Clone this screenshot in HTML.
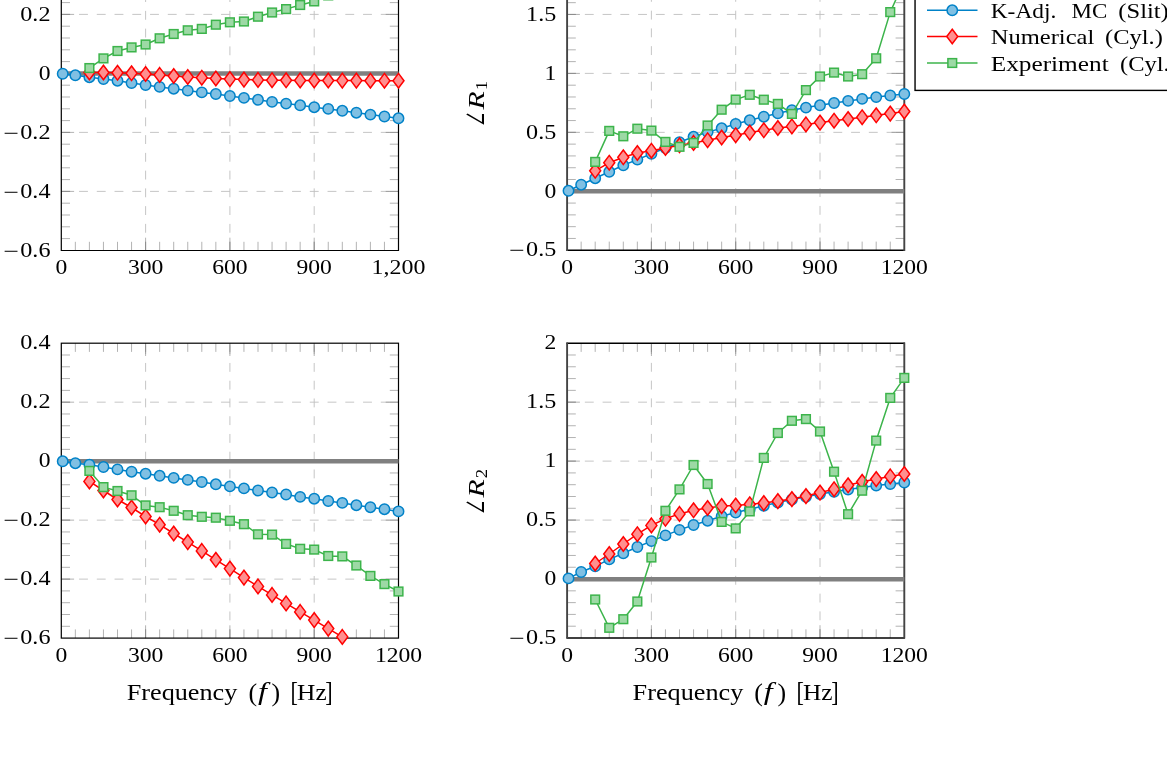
<!DOCTYPE html>
<html lang="en"><head><meta charset="utf-8"><title>Reflection coefficient plots</title>
<style>html,body{margin:0;padding:0;background:#fff}body{width:1167px;height:757px;overflow:hidden}svg{display:block}</style></head><body>
<svg width="1167" height="757" viewBox="0 0 1167 757">
<rect width="1167" height="757" fill="#fff"/>
<clipPath id="c1"><rect x="61.30" y="-44.50" width="337.20" height="295.00"/></clipPath>
<g stroke="#bfbfbf" stroke-width="0.9" stroke-dasharray="8.875 8.875" fill="none">
<path d="M145.60 250.50V-44.50"/>
<path d="M229.90 250.50V-44.50"/>
<path d="M314.20 250.50V-44.50"/>
<path d="M61.30 -44.60H398.50"/>
<path d="M61.30 14.40H398.50"/>
<path d="M61.30 73.40H398.50"/>
<path d="M61.30 132.40H398.50"/>
<path d="M61.30 191.40H398.50"/>
</g>
<g stroke="#808080" stroke-width="0.6" fill="none">
<path d="M75.35 250.50v-8.7M89.40 250.50v-8.7M103.45 250.50v-8.7M117.50 250.50v-8.7M131.55 250.50v-8.7M145.60 250.50v-8.7M145.60 250.50v-12.8M159.65 250.50v-8.7M173.70 250.50v-8.7M187.75 250.50v-8.7M201.80 250.50v-8.7M215.85 250.50v-8.7M229.90 250.50v-8.7M229.90 250.50v-12.8M243.95 250.50v-8.7M258.00 250.50v-8.7M272.05 250.50v-8.7M286.10 250.50v-8.7M300.15 250.50v-8.7M314.20 250.50v-8.7M314.20 250.50v-12.8M328.25 250.50v-8.7M342.30 250.50v-8.7M356.35 250.50v-8.7M370.40 250.50v-8.7M384.45 250.50v-8.7M61.30 2.60h8.7M398.50 2.60h-8.7M61.30 14.40h8.7M398.50 14.40h-8.7M61.30 14.40h12.8M398.50 14.40h-12.8M61.30 26.20h8.7M398.50 26.20h-8.7M61.30 38.00h8.7M398.50 38.00h-8.7M61.30 49.80h8.7M398.50 49.80h-8.7M61.30 61.60h8.7M398.50 61.60h-8.7M61.30 73.40h8.7M398.50 73.40h-8.7M61.30 73.40h12.8M398.50 73.40h-12.8M61.30 85.20h8.7M398.50 85.20h-8.7M61.30 97.00h8.7M398.50 97.00h-8.7M61.30 108.80h8.7M398.50 108.80h-8.7M61.30 120.60h8.7M398.50 120.60h-8.7M61.30 132.40h8.7M398.50 132.40h-8.7M61.30 132.40h12.8M398.50 132.40h-12.8M61.30 144.20h8.7M398.50 144.20h-8.7M61.30 156.00h8.7M398.50 156.00h-8.7M61.30 167.80h8.7M398.50 167.80h-8.7M61.30 179.60h8.7M398.50 179.60h-8.7M61.30 191.40h8.7M398.50 191.40h-8.7M61.30 191.40h12.8M398.50 191.40h-12.8M61.30 203.20h8.7M398.50 203.20h-8.7M61.30 215.00h8.7M398.50 215.00h-8.7M61.30 226.80h8.7M398.50 226.80h-8.7M61.30 238.60h8.7M398.50 238.60h-8.7"/></g>
<path d="M61.30 -44.50V250.50H398.50V-44.50" stroke="#000" stroke-width="1.2" fill="none" stroke-linejoin="miter"/>
<path d="M61.30 73.50H398.50" stroke="#808080" stroke-width="4.4" fill="none"/>
<g font-family="Liberation Serif, serif" fill="#000">
<text x="55.40" y="274.20" font-size="20.9" textLength="11.80" lengthAdjust="spacingAndGlyphs">0</text>
<text x="127.90" y="274.20" font-size="20.9" textLength="35.40" lengthAdjust="spacingAndGlyphs">300</text>
<text x="212.20" y="274.20" font-size="20.9" textLength="35.40" lengthAdjust="spacingAndGlyphs">600</text>
<text x="296.50" y="274.20" font-size="20.9" textLength="35.40" lengthAdjust="spacingAndGlyphs">900</text>
<text x="371.60" y="274.20" font-size="20.9" textLength="53.80" lengthAdjust="spacingAndGlyphs">1,200</text>
<text x="20.30" y="20.60" font-size="20.9" textLength="30.20" lengthAdjust="spacingAndGlyphs">0.2</text>
<text x="38.70" y="79.60" font-size="20.9" textLength="11.80" lengthAdjust="spacingAndGlyphs">0</text>
<text x="3.30" y="139.50" font-size="20.9" textLength="15.6" lengthAdjust="spacingAndGlyphs">−</text><text x="20.30" y="138.60" font-size="20.9" textLength="30.20" lengthAdjust="spacingAndGlyphs">0.2</text>
<text x="3.30" y="198.50" font-size="20.9" textLength="15.6" lengthAdjust="spacingAndGlyphs">−</text><text x="20.30" y="197.60" font-size="20.9" textLength="30.20" lengthAdjust="spacingAndGlyphs">0.4</text>
<text x="3.30" y="257.50" font-size="20.9" textLength="15.6" lengthAdjust="spacingAndGlyphs">−</text><text x="20.30" y="256.60" font-size="20.9" textLength="30.20" lengthAdjust="spacingAndGlyphs">0.6</text>
</g>
<path d="M62.70 73.75L75.35 75.30L89.40 77.20L103.45 79.00L117.50 80.70L131.55 83.00L145.60 85.00L159.65 86.90L173.70 88.70L187.75 90.60L201.80 92.40L215.85 94.00L229.90 96.00L243.95 97.90L258.00 99.80L272.05 101.90L286.10 103.60L300.15 105.30L314.20 107.20L328.25 108.90L342.30 110.80L356.35 112.70L370.40 114.60L384.45 116.50L398.50 118.30" fill="none" stroke="#0082c8" stroke-width="1.5" stroke-linejoin="round" clip-path="url(#c1)"/>
<g fill="#80c0e3" stroke="#0082c8" stroke-width="1.5" stroke-linejoin="miter">
<circle cx="62.70" cy="73.75" r="5.2"/>
<circle cx="75.35" cy="75.30" r="5.2"/>
<circle cx="89.40" cy="77.20" r="5.2"/>
<circle cx="103.45" cy="79.00" r="5.2"/>
<circle cx="117.50" cy="80.70" r="5.2"/>
<circle cx="131.55" cy="83.00" r="5.2"/>
<circle cx="145.60" cy="85.00" r="5.2"/>
<circle cx="159.65" cy="86.90" r="5.2"/>
<circle cx="173.70" cy="88.70" r="5.2"/>
<circle cx="187.75" cy="90.60" r="5.2"/>
<circle cx="201.80" cy="92.40" r="5.2"/>
<circle cx="215.85" cy="94.00" r="5.2"/>
<circle cx="229.90" cy="96.00" r="5.2"/>
<circle cx="243.95" cy="97.90" r="5.2"/>
<circle cx="258.00" cy="99.80" r="5.2"/>
<circle cx="272.05" cy="101.90" r="5.2"/>
<circle cx="286.10" cy="103.60" r="5.2"/>
<circle cx="300.15" cy="105.30" r="5.2"/>
<circle cx="314.20" cy="107.20" r="5.2"/>
<circle cx="328.25" cy="108.90" r="5.2"/>
<circle cx="342.30" cy="110.80" r="5.2"/>
<circle cx="356.35" cy="112.70" r="5.2"/>
<circle cx="370.40" cy="114.60" r="5.2"/>
<circle cx="384.45" cy="116.50" r="5.2"/>
<circle cx="398.50" cy="118.30" r="5.2"/>
</g>
<path d="M89.40 72.50L103.45 72.50L117.50 72.80L131.55 73.30L145.60 74.00L159.65 74.90L173.70 76.00L187.75 77.00L201.80 77.70L215.85 78.50L229.90 79.10L243.95 79.60L258.00 79.90L272.05 80.20L286.10 80.30L300.15 80.40L314.20 80.50L328.25 80.50L342.30 80.60L356.35 80.60L370.40 80.70L384.45 80.70L398.50 80.70" fill="none" stroke="#ff0000" stroke-width="1.5" stroke-linejoin="round" clip-path="url(#c1)"/>
<g fill="#ff8f8f" stroke="#ff0000" stroke-width="1.5" stroke-linejoin="miter">
<path d="M89.40 65.20L94.90 72.50L89.40 79.80L83.90 72.50Z"/>
<path d="M103.45 65.20L108.95 72.50L103.45 79.80L97.95 72.50Z"/>
<path d="M117.50 65.50L123.00 72.80L117.50 80.10L112.00 72.80Z"/>
<path d="M131.55 66.00L137.05 73.30L131.55 80.60L126.05 73.30Z"/>
<path d="M145.60 66.70L151.10 74.00L145.60 81.30L140.10 74.00Z"/>
<path d="M159.65 67.60L165.15 74.90L159.65 82.20L154.15 74.90Z"/>
<path d="M173.70 68.70L179.20 76.00L173.70 83.30L168.20 76.00Z"/>
<path d="M187.75 69.70L193.25 77.00L187.75 84.30L182.25 77.00Z"/>
<path d="M201.80 70.40L207.30 77.70L201.80 85.00L196.30 77.70Z"/>
<path d="M215.85 71.20L221.35 78.50L215.85 85.80L210.35 78.50Z"/>
<path d="M229.90 71.80L235.40 79.10L229.90 86.40L224.40 79.10Z"/>
<path d="M243.95 72.30L249.45 79.60L243.95 86.90L238.45 79.60Z"/>
<path d="M258.00 72.60L263.50 79.90L258.00 87.20L252.50 79.90Z"/>
<path d="M272.05 72.90L277.55 80.20L272.05 87.50L266.55 80.20Z"/>
<path d="M286.10 73.00L291.60 80.30L286.10 87.60L280.60 80.30Z"/>
<path d="M300.15 73.10L305.65 80.40L300.15 87.70L294.65 80.40Z"/>
<path d="M314.20 73.20L319.70 80.50L314.20 87.80L308.70 80.50Z"/>
<path d="M328.25 73.20L333.75 80.50L328.25 87.80L322.75 80.50Z"/>
<path d="M342.30 73.30L347.80 80.60L342.30 87.90L336.80 80.60Z"/>
<path d="M356.35 73.30L361.85 80.60L356.35 87.90L350.85 80.60Z"/>
<path d="M370.40 73.40L375.90 80.70L370.40 88.00L364.90 80.70Z"/>
<path d="M384.45 73.40L389.95 80.70L384.45 88.00L378.95 80.70Z"/>
<path d="M398.50 73.40L404.00 80.70L398.50 88.00L393.00 80.70Z"/>
</g>
<path d="M89.40 68.05L103.45 58.40L117.50 51.00L131.55 47.40L145.60 44.50L159.65 38.30L173.70 34.00L187.75 30.30L201.80 28.90L215.85 24.70L229.90 22.30L243.95 21.50L258.00 16.70L272.05 12.50L286.10 9.10L300.15 5.00L314.20 1.40L328.25 -4.60L342.30 -8.00L356.35 -11.50L370.40 -15.00L384.45 -18.00L398.50 -21.00" fill="none" stroke="#3cb44b" stroke-width="1.5" stroke-linejoin="round" clip-path="url(#c1)"/>
<g fill="#9dd9a5" stroke="#3cb44b" stroke-width="1.5" stroke-linejoin="miter">
<rect x="85.05" y="63.70" width="8.70" height="8.70"/>
<rect x="99.10" y="54.05" width="8.70" height="8.70"/>
<rect x="113.15" y="46.65" width="8.70" height="8.70"/>
<rect x="127.20" y="43.05" width="8.70" height="8.70"/>
<rect x="141.25" y="40.15" width="8.70" height="8.70"/>
<rect x="155.30" y="33.95" width="8.70" height="8.70"/>
<rect x="169.35" y="29.65" width="8.70" height="8.70"/>
<rect x="183.40" y="25.95" width="8.70" height="8.70"/>
<rect x="197.45" y="24.55" width="8.70" height="8.70"/>
<rect x="211.50" y="20.35" width="8.70" height="8.70"/>
<rect x="225.55" y="17.95" width="8.70" height="8.70"/>
<rect x="239.60" y="17.15" width="8.70" height="8.70"/>
<rect x="253.65" y="12.35" width="8.70" height="8.70"/>
<rect x="267.70" y="8.15" width="8.70" height="8.70"/>
<rect x="281.75" y="4.75" width="8.70" height="8.70"/>
<rect x="295.80" y="0.65" width="8.70" height="8.70"/>
<rect x="309.85" y="-2.95" width="8.70" height="8.70"/>
<rect x="323.90" y="-8.95" width="8.70" height="8.70"/>
<rect x="337.95" y="-12.35" width="8.70" height="8.70"/>
<rect x="352.00" y="-15.85" width="8.70" height="8.70"/>
<rect x="366.05" y="-19.35" width="8.70" height="8.70"/>
<rect x="380.10" y="-22.35" width="8.70" height="8.70"/>
<rect x="394.15" y="-25.35" width="8.70" height="8.70"/>
</g>
<clipPath id="c2"><rect x="567.10" y="-44.50" width="337.20" height="294.80"/></clipPath>
<g stroke="#bfbfbf" stroke-width="0.9" stroke-dasharray="8.875 8.875" fill="none">
<path d="M651.40 250.30V-44.50"/>
<path d="M735.70 250.30V-44.50"/>
<path d="M820.00 250.30V-44.50"/>
<path d="M567.10 -44.50H904.30"/>
<path d="M567.10 14.45H904.30"/>
<path d="M567.10 73.40H904.30"/>
<path d="M567.10 132.35H904.30"/>
<path d="M567.10 191.30H904.30"/>
</g>
<g stroke="#808080" stroke-width="0.6" fill="none">
<path d="M581.15 250.30v-8.7M595.20 250.30v-8.7M609.25 250.30v-8.7M623.30 250.30v-8.7M637.35 250.30v-8.7M651.40 250.30v-8.7M651.40 250.30v-12.8M665.45 250.30v-8.7M679.50 250.30v-8.7M693.55 250.30v-8.7M707.60 250.30v-8.7M721.65 250.30v-8.7M735.70 250.30v-8.7M735.70 250.30v-12.8M749.75 250.30v-8.7M763.80 250.30v-8.7M777.85 250.30v-8.7M791.90 250.30v-8.7M805.95 250.30v-8.7M820.00 250.30v-8.7M820.00 250.30v-12.8M834.05 250.30v-8.7M848.10 250.30v-8.7M862.15 250.30v-8.7M876.20 250.30v-8.7M890.25 250.30v-8.7M567.10 2.66h8.7M904.30 2.66h-8.7M567.10 14.45h8.7M904.30 14.45h-8.7M567.10 14.45h12.8M904.30 14.45h-12.8M567.10 26.24h8.7M904.30 26.24h-8.7M567.10 38.03h8.7M904.30 38.03h-8.7M567.10 49.82h8.7M904.30 49.82h-8.7M567.10 61.61h8.7M904.30 61.61h-8.7M567.10 73.40h8.7M904.30 73.40h-8.7M567.10 73.40h12.8M904.30 73.40h-12.8M567.10 85.19h8.7M904.30 85.19h-8.7M567.10 96.98h8.7M904.30 96.98h-8.7M567.10 108.77h8.7M904.30 108.77h-8.7M567.10 120.56h8.7M904.30 120.56h-8.7M567.10 132.35h8.7M904.30 132.35h-8.7M567.10 132.35h12.8M904.30 132.35h-12.8M567.10 144.14h8.7M904.30 144.14h-8.7M567.10 155.93h8.7M904.30 155.93h-8.7M567.10 167.72h8.7M904.30 167.72h-8.7M567.10 179.51h8.7M904.30 179.51h-8.7M567.10 191.30h8.7M904.30 191.30h-8.7M567.10 191.30h12.8M904.30 191.30h-12.8M567.10 203.09h8.7M904.30 203.09h-8.7M567.10 214.88h8.7M904.30 214.88h-8.7M567.10 226.67h8.7M904.30 226.67h-8.7M567.10 238.46h8.7M904.30 238.46h-8.7"/></g>
<path d="M566.50 250.30H904.90" stroke="#000" stroke-width="1.5" fill="none"/>
<path d="M567.10 -45.10V250.90M904.30 -45.10V250.90" stroke="#444" stroke-width="1.9" fill="none"/>
<path d="M567.10 191.30H904.30" stroke="#808080" stroke-width="4.4" fill="none"/>
<g font-family="Liberation Serif, serif" fill="#000">
<text x="561.20" y="274.00" font-size="20.9" textLength="11.80" lengthAdjust="spacingAndGlyphs">0</text>
<text x="633.70" y="274.00" font-size="20.9" textLength="35.40" lengthAdjust="spacingAndGlyphs">300</text>
<text x="718.00" y="274.00" font-size="20.9" textLength="35.40" lengthAdjust="spacingAndGlyphs">600</text>
<text x="802.30" y="274.00" font-size="20.9" textLength="35.40" lengthAdjust="spacingAndGlyphs">900</text>
<text x="880.70" y="274.00" font-size="20.9" textLength="47.20" lengthAdjust="spacingAndGlyphs">1200</text>
<text x="526.10" y="20.65" font-size="20.9" textLength="30.20" lengthAdjust="spacingAndGlyphs">1.5</text>
<text x="544.50" y="79.60" font-size="20.9" textLength="11.80" lengthAdjust="spacingAndGlyphs">1</text>
<text x="526.10" y="138.55" font-size="20.9" textLength="30.20" lengthAdjust="spacingAndGlyphs">0.5</text>
<text x="544.50" y="197.50" font-size="20.9" textLength="11.80" lengthAdjust="spacingAndGlyphs">0</text>
<text x="509.10" y="257.35" font-size="20.9" textLength="15.6" lengthAdjust="spacingAndGlyphs">−</text><text x="526.10" y="256.45" font-size="20.9" textLength="30.20" lengthAdjust="spacingAndGlyphs">0.5</text>
</g>
<path d="M568.50 190.80L581.15 184.70L595.20 178.20L609.25 171.80L623.30 165.30L637.35 159.60L651.40 153.80L665.45 148.00L679.50 142.20L693.55 136.80L707.60 132.10L721.65 128.30L735.70 124.00L749.75 120.30L763.80 116.70L777.85 113.30L791.90 110.20L805.95 107.60L820.00 105.30L834.05 103.00L848.10 100.90L862.15 98.90L876.20 97.10L890.25 95.50L904.30 94.00" fill="none" stroke="#0082c8" stroke-width="1.5" stroke-linejoin="round" clip-path="url(#c2)"/>
<g fill="#80c0e3" stroke="#0082c8" stroke-width="1.5" stroke-linejoin="miter">
<circle cx="568.50" cy="190.80" r="5.2"/>
<circle cx="581.15" cy="184.70" r="5.2"/>
<circle cx="595.20" cy="178.20" r="5.2"/>
<circle cx="609.25" cy="171.80" r="5.2"/>
<circle cx="623.30" cy="165.30" r="5.2"/>
<circle cx="637.35" cy="159.60" r="5.2"/>
<circle cx="651.40" cy="153.80" r="5.2"/>
<circle cx="665.45" cy="148.00" r="5.2"/>
<circle cx="679.50" cy="142.20" r="5.2"/>
<circle cx="693.55" cy="136.80" r="5.2"/>
<circle cx="707.60" cy="132.10" r="5.2"/>
<circle cx="721.65" cy="128.30" r="5.2"/>
<circle cx="735.70" cy="124.00" r="5.2"/>
<circle cx="749.75" cy="120.30" r="5.2"/>
<circle cx="763.80" cy="116.70" r="5.2"/>
<circle cx="777.85" cy="113.30" r="5.2"/>
<circle cx="791.90" cy="110.20" r="5.2"/>
<circle cx="805.95" cy="107.60" r="5.2"/>
<circle cx="820.00" cy="105.30" r="5.2"/>
<circle cx="834.05" cy="103.00" r="5.2"/>
<circle cx="848.10" cy="100.90" r="5.2"/>
<circle cx="862.15" cy="98.90" r="5.2"/>
<circle cx="876.20" cy="97.10" r="5.2"/>
<circle cx="890.25" cy="95.50" r="5.2"/>
<circle cx="904.30" cy="94.00" r="5.2"/>
</g>
<path d="M595.20 170.80L609.25 162.70L623.30 157.30L637.35 153.00L651.40 150.70L665.45 148.00L679.50 145.30L693.55 142.90L707.60 140.20L721.65 137.50L735.70 135.20L749.75 132.60L763.80 130.30L777.85 128.00L791.90 126.40L805.95 124.40L820.00 122.60L834.05 120.70L848.10 119.00L862.15 117.20L876.20 115.30L890.25 113.60L904.30 111.50" fill="none" stroke="#ff0000" stroke-width="1.5" stroke-linejoin="round" clip-path="url(#c2)"/>
<g fill="#ff8f8f" stroke="#ff0000" stroke-width="1.5" stroke-linejoin="miter">
<path d="M595.20 163.50L600.70 170.80L595.20 178.10L589.70 170.80Z"/>
<path d="M609.25 155.40L614.75 162.70L609.25 170.00L603.75 162.70Z"/>
<path d="M623.30 150.00L628.80 157.30L623.30 164.60L617.80 157.30Z"/>
<path d="M637.35 145.70L642.85 153.00L637.35 160.30L631.85 153.00Z"/>
<path d="M651.40 143.40L656.90 150.70L651.40 158.00L645.90 150.70Z"/>
<path d="M665.45 140.70L670.95 148.00L665.45 155.30L659.95 148.00Z"/>
<path d="M679.50 138.00L685.00 145.30L679.50 152.60L674.00 145.30Z"/>
<path d="M693.55 135.60L699.05 142.90L693.55 150.20L688.05 142.90Z"/>
<path d="M707.60 132.90L713.10 140.20L707.60 147.50L702.10 140.20Z"/>
<path d="M721.65 130.20L727.15 137.50L721.65 144.80L716.15 137.50Z"/>
<path d="M735.70 127.90L741.20 135.20L735.70 142.50L730.20 135.20Z"/>
<path d="M749.75 125.30L755.25 132.60L749.75 139.90L744.25 132.60Z"/>
<path d="M763.80 123.00L769.30 130.30L763.80 137.60L758.30 130.30Z"/>
<path d="M777.85 120.70L783.35 128.00L777.85 135.30L772.35 128.00Z"/>
<path d="M791.90 119.10L797.40 126.40L791.90 133.70L786.40 126.40Z"/>
<path d="M805.95 117.10L811.45 124.40L805.95 131.70L800.45 124.40Z"/>
<path d="M820.00 115.30L825.50 122.60L820.00 129.90L814.50 122.60Z"/>
<path d="M834.05 113.40L839.55 120.70L834.05 128.00L828.55 120.70Z"/>
<path d="M848.10 111.70L853.60 119.00L848.10 126.30L842.60 119.00Z"/>
<path d="M862.15 109.90L867.65 117.20L862.15 124.50L856.65 117.20Z"/>
<path d="M876.20 108.00L881.70 115.30L876.20 122.60L870.70 115.30Z"/>
<path d="M890.25 106.30L895.75 113.60L890.25 120.90L884.75 113.60Z"/>
<path d="M904.30 104.20L909.80 111.50L904.30 118.80L898.80 111.50Z"/>
</g>
<path d="M595.20 161.90L609.25 130.90L623.30 136.30L637.35 128.70L651.40 130.60L665.45 141.90L679.50 146.80L693.55 142.90L707.60 125.50L721.65 109.70L735.70 99.60L749.75 94.80L763.80 99.70L777.85 103.90L791.90 113.90L805.95 90.10L820.00 76.50L834.05 72.60L848.10 76.50L862.15 74.20L876.20 58.30L890.25 12.10L904.30 -19.00" fill="none" stroke="#3cb44b" stroke-width="1.5" stroke-linejoin="round" clip-path="url(#c2)"/>
<g fill="#9dd9a5" stroke="#3cb44b" stroke-width="1.5" stroke-linejoin="miter">
<rect x="590.85" y="157.55" width="8.70" height="8.70"/>
<rect x="604.90" y="126.55" width="8.70" height="8.70"/>
<rect x="618.95" y="131.95" width="8.70" height="8.70"/>
<rect x="633.00" y="124.35" width="8.70" height="8.70"/>
<rect x="647.05" y="126.25" width="8.70" height="8.70"/>
<rect x="661.10" y="137.55" width="8.70" height="8.70"/>
<rect x="675.15" y="142.45" width="8.70" height="8.70"/>
<rect x="689.20" y="138.55" width="8.70" height="8.70"/>
<rect x="703.25" y="121.15" width="8.70" height="8.70"/>
<rect x="717.30" y="105.35" width="8.70" height="8.70"/>
<rect x="731.35" y="95.25" width="8.70" height="8.70"/>
<rect x="745.40" y="90.45" width="8.70" height="8.70"/>
<rect x="759.45" y="95.35" width="8.70" height="8.70"/>
<rect x="773.50" y="99.55" width="8.70" height="8.70"/>
<rect x="787.55" y="109.55" width="8.70" height="8.70"/>
<rect x="801.60" y="85.75" width="8.70" height="8.70"/>
<rect x="815.65" y="72.15" width="8.70" height="8.70"/>
<rect x="829.70" y="68.25" width="8.70" height="8.70"/>
<rect x="843.75" y="72.15" width="8.70" height="8.70"/>
<rect x="857.80" y="69.85" width="8.70" height="8.70"/>
<rect x="871.85" y="53.95" width="8.70" height="8.70"/>
<rect x="885.90" y="7.75" width="8.70" height="8.70"/>
<rect x="899.95" y="-23.35" width="8.70" height="8.70"/>
</g>
<clipPath id="c3"><rect x="61.30" y="343.20" width="337.20" height="294.90"/></clipPath>
<g stroke="#bfbfbf" stroke-width="0.9" stroke-dasharray="8.875 8.875" fill="none">
<path d="M145.60 638.10V343.20"/>
<path d="M229.90 638.10V343.20"/>
<path d="M314.20 638.10V343.20"/>
<path d="M61.30 402.18H398.50"/>
<path d="M61.30 461.16H398.50"/>
<path d="M61.30 520.14H398.50"/>
<path d="M61.30 579.12H398.50"/>
</g>
<g stroke="#808080" stroke-width="0.6" fill="none">
<path d="M75.35 638.10v-8.7M75.35 343.20v8.7M89.40 638.10v-8.7M89.40 343.20v8.7M103.45 638.10v-8.7M103.45 343.20v8.7M117.50 638.10v-8.7M117.50 343.20v8.7M131.55 638.10v-8.7M131.55 343.20v8.7M145.60 638.10v-8.7M145.60 343.20v8.7M145.60 638.10v-12.8M145.60 343.20v12.8M159.65 638.10v-8.7M159.65 343.20v8.7M173.70 638.10v-8.7M173.70 343.20v8.7M187.75 638.10v-8.7M187.75 343.20v8.7M201.80 638.10v-8.7M201.80 343.20v8.7M215.85 638.10v-8.7M215.85 343.20v8.7M229.90 638.10v-8.7M229.90 343.20v8.7M229.90 638.10v-12.8M229.90 343.20v12.8M243.95 638.10v-8.7M243.95 343.20v8.7M258.00 638.10v-8.7M258.00 343.20v8.7M272.05 638.10v-8.7M272.05 343.20v8.7M286.10 638.10v-8.7M286.10 343.20v8.7M300.15 638.10v-8.7M300.15 343.20v8.7M314.20 638.10v-8.7M314.20 343.20v8.7M314.20 638.10v-12.8M314.20 343.20v12.8M328.25 638.10v-8.7M328.25 343.20v8.7M342.30 638.10v-8.7M342.30 343.20v8.7M356.35 638.10v-8.7M356.35 343.20v8.7M370.40 638.10v-8.7M370.40 343.20v8.7M384.45 638.10v-8.7M384.45 343.20v8.7M61.30 355.00h8.7M398.50 355.00h-8.7M61.30 366.79h8.7M398.50 366.79h-8.7M61.30 378.59h8.7M398.50 378.59h-8.7M61.30 390.38h8.7M398.50 390.38h-8.7M61.30 402.18h8.7M398.50 402.18h-8.7M61.30 402.18h12.8M398.50 402.18h-12.8M61.30 413.98h8.7M398.50 413.98h-8.7M61.30 425.77h8.7M398.50 425.77h-8.7M61.30 437.57h8.7M398.50 437.57h-8.7M61.30 449.36h8.7M398.50 449.36h-8.7M61.30 461.16h8.7M398.50 461.16h-8.7M61.30 461.16h12.8M398.50 461.16h-12.8M61.30 472.96h8.7M398.50 472.96h-8.7M61.30 484.75h8.7M398.50 484.75h-8.7M61.30 496.55h8.7M398.50 496.55h-8.7M61.30 508.34h8.7M398.50 508.34h-8.7M61.30 520.14h8.7M398.50 520.14h-8.7M61.30 520.14h12.8M398.50 520.14h-12.8M61.30 531.94h8.7M398.50 531.94h-8.7M61.30 543.73h8.7M398.50 543.73h-8.7M61.30 555.53h8.7M398.50 555.53h-8.7M61.30 567.32h8.7M398.50 567.32h-8.7M61.30 579.12h8.7M398.50 579.12h-8.7M61.30 579.12h12.8M398.50 579.12h-12.8M61.30 590.92h8.7M398.50 590.92h-8.7M61.30 602.71h8.7M398.50 602.71h-8.7M61.30 614.51h8.7M398.50 614.51h-8.7M61.30 626.30h8.7M398.50 626.30h-8.7"/></g>
<rect x="61.30" y="343.20" width="337.20" height="294.90" stroke="#000" stroke-width="1.2" fill="none"/>
<path d="M61.30 461.30H398.50" stroke="#808080" stroke-width="4.4" fill="none"/>
<g font-family="Liberation Serif, serif" fill="#000">
<text x="55.40" y="661.80" font-size="20.9" textLength="11.80" lengthAdjust="spacingAndGlyphs">0</text>
<text x="127.90" y="661.80" font-size="20.9" textLength="35.40" lengthAdjust="spacingAndGlyphs">300</text>
<text x="212.20" y="661.80" font-size="20.9" textLength="35.40" lengthAdjust="spacingAndGlyphs">600</text>
<text x="296.50" y="661.80" font-size="20.9" textLength="35.40" lengthAdjust="spacingAndGlyphs">900</text>
<text x="374.90" y="661.80" font-size="20.9" textLength="47.20" lengthAdjust="spacingAndGlyphs">1200</text>
<text x="20.30" y="349.40" font-size="20.9" textLength="30.20" lengthAdjust="spacingAndGlyphs">0.4</text>
<text x="20.30" y="408.38" font-size="20.9" textLength="30.20" lengthAdjust="spacingAndGlyphs">0.2</text>
<text x="38.70" y="467.36" font-size="20.9" textLength="11.80" lengthAdjust="spacingAndGlyphs">0</text>
<text x="3.30" y="527.24" font-size="20.9" textLength="15.6" lengthAdjust="spacingAndGlyphs">−</text><text x="20.30" y="526.34" font-size="20.9" textLength="30.20" lengthAdjust="spacingAndGlyphs">0.2</text>
<text x="3.30" y="586.22" font-size="20.9" textLength="15.6" lengthAdjust="spacingAndGlyphs">−</text><text x="20.30" y="585.32" font-size="20.9" textLength="30.20" lengthAdjust="spacingAndGlyphs">0.4</text>
<text x="3.30" y="645.20" font-size="20.9" textLength="15.6" lengthAdjust="spacingAndGlyphs">−</text><text x="20.30" y="644.30" font-size="20.9" textLength="30.20" lengthAdjust="spacingAndGlyphs">0.6</text>
</g>
<path d="M62.70 461.30L75.35 463.20L89.40 464.70L103.45 467.00L117.50 469.40L131.55 471.70L145.60 473.70L159.65 475.80L173.70 477.90L187.75 479.90L201.80 482.00L215.85 484.30L229.90 486.40L243.95 488.40L258.00 490.50L272.05 492.50L286.10 494.50L300.15 496.90L314.20 498.70L328.25 501.00L342.30 502.90L356.35 505.20L370.40 507.20L384.45 509.20L398.50 511.40" fill="none" stroke="#0082c8" stroke-width="1.5" stroke-linejoin="round" clip-path="url(#c3)"/>
<g fill="#80c0e3" stroke="#0082c8" stroke-width="1.5" stroke-linejoin="miter">
<circle cx="62.70" cy="461.30" r="5.2"/>
<circle cx="75.35" cy="463.20" r="5.2"/>
<circle cx="89.40" cy="464.70" r="5.2"/>
<circle cx="103.45" cy="467.00" r="5.2"/>
<circle cx="117.50" cy="469.40" r="5.2"/>
<circle cx="131.55" cy="471.70" r="5.2"/>
<circle cx="145.60" cy="473.70" r="5.2"/>
<circle cx="159.65" cy="475.80" r="5.2"/>
<circle cx="173.70" cy="477.90" r="5.2"/>
<circle cx="187.75" cy="479.90" r="5.2"/>
<circle cx="201.80" cy="482.00" r="5.2"/>
<circle cx="215.85" cy="484.30" r="5.2"/>
<circle cx="229.90" cy="486.40" r="5.2"/>
<circle cx="243.95" cy="488.40" r="5.2"/>
<circle cx="258.00" cy="490.50" r="5.2"/>
<circle cx="272.05" cy="492.50" r="5.2"/>
<circle cx="286.10" cy="494.50" r="5.2"/>
<circle cx="300.15" cy="496.90" r="5.2"/>
<circle cx="314.20" cy="498.70" r="5.2"/>
<circle cx="328.25" cy="501.00" r="5.2"/>
<circle cx="342.30" cy="502.90" r="5.2"/>
<circle cx="356.35" cy="505.20" r="5.2"/>
<circle cx="370.40" cy="507.20" r="5.2"/>
<circle cx="384.45" cy="509.20" r="5.2"/>
<circle cx="398.50" cy="511.40" r="5.2"/>
</g>
<path d="M89.40 481.40L103.45 490.50L117.50 499.50L131.55 507.50L145.60 516.50L159.65 524.70L173.70 533.50L187.75 542.10L201.80 550.90L215.85 559.80L229.90 568.60L243.95 577.60L258.00 586.40L272.05 594.90L286.10 603.40L300.15 611.90L314.20 620.10L328.25 628.60L342.30 636.90L356.35 645.50L370.40 654.00L384.45 662.50L398.50 671.00" fill="none" stroke="#ff0000" stroke-width="1.5" stroke-linejoin="round" clip-path="url(#c3)"/>
<g fill="#ff8f8f" stroke="#ff0000" stroke-width="1.5" stroke-linejoin="miter">
<path d="M89.40 474.10L94.90 481.40L89.40 488.70L83.90 481.40Z"/>
<path d="M103.45 483.20L108.95 490.50L103.45 497.80L97.95 490.50Z"/>
<path d="M117.50 492.20L123.00 499.50L117.50 506.80L112.00 499.50Z"/>
<path d="M131.55 500.20L137.05 507.50L131.55 514.80L126.05 507.50Z"/>
<path d="M145.60 509.20L151.10 516.50L145.60 523.80L140.10 516.50Z"/>
<path d="M159.65 517.40L165.15 524.70L159.65 532.00L154.15 524.70Z"/>
<path d="M173.70 526.20L179.20 533.50L173.70 540.80L168.20 533.50Z"/>
<path d="M187.75 534.80L193.25 542.10L187.75 549.40L182.25 542.10Z"/>
<path d="M201.80 543.60L207.30 550.90L201.80 558.20L196.30 550.90Z"/>
<path d="M215.85 552.50L221.35 559.80L215.85 567.10L210.35 559.80Z"/>
<path d="M229.90 561.30L235.40 568.60L229.90 575.90L224.40 568.60Z"/>
<path d="M243.95 570.30L249.45 577.60L243.95 584.90L238.45 577.60Z"/>
<path d="M258.00 579.10L263.50 586.40L258.00 593.70L252.50 586.40Z"/>
<path d="M272.05 587.60L277.55 594.90L272.05 602.20L266.55 594.90Z"/>
<path d="M286.10 596.10L291.60 603.40L286.10 610.70L280.60 603.40Z"/>
<path d="M300.15 604.60L305.65 611.90L300.15 619.20L294.65 611.90Z"/>
<path d="M314.20 612.80L319.70 620.10L314.20 627.40L308.70 620.10Z"/>
<path d="M328.25 621.30L333.75 628.60L328.25 635.90L322.75 628.60Z"/>
<path d="M342.30 629.60L347.80 636.90L342.30 644.20L336.80 636.90Z"/>
</g>
<path d="M89.40 470.90L103.45 487.10L117.50 491.00L131.55 495.30L145.60 505.40L159.65 507.20L173.70 510.80L187.75 515.20L201.80 516.80L215.85 517.70L229.90 520.80L243.95 524.20L258.00 534.30L272.05 534.60L286.10 543.90L300.15 548.80L314.20 549.60L328.25 556.00L342.30 556.40L356.35 565.50L370.40 575.90L384.45 584.10L398.50 591.50" fill="none" stroke="#3cb44b" stroke-width="1.5" stroke-linejoin="round" clip-path="url(#c3)"/>
<g fill="#9dd9a5" stroke="#3cb44b" stroke-width="1.5" stroke-linejoin="miter">
<rect x="85.05" y="466.55" width="8.70" height="8.70"/>
<rect x="99.10" y="482.75" width="8.70" height="8.70"/>
<rect x="113.15" y="486.65" width="8.70" height="8.70"/>
<rect x="127.20" y="490.95" width="8.70" height="8.70"/>
<rect x="141.25" y="501.05" width="8.70" height="8.70"/>
<rect x="155.30" y="502.85" width="8.70" height="8.70"/>
<rect x="169.35" y="506.45" width="8.70" height="8.70"/>
<rect x="183.40" y="510.85" width="8.70" height="8.70"/>
<rect x="197.45" y="512.45" width="8.70" height="8.70"/>
<rect x="211.50" y="513.35" width="8.70" height="8.70"/>
<rect x="225.55" y="516.45" width="8.70" height="8.70"/>
<rect x="239.60" y="519.85" width="8.70" height="8.70"/>
<rect x="253.65" y="529.95" width="8.70" height="8.70"/>
<rect x="267.70" y="530.25" width="8.70" height="8.70"/>
<rect x="281.75" y="539.55" width="8.70" height="8.70"/>
<rect x="295.80" y="544.45" width="8.70" height="8.70"/>
<rect x="309.85" y="545.25" width="8.70" height="8.70"/>
<rect x="323.90" y="551.65" width="8.70" height="8.70"/>
<rect x="337.95" y="552.05" width="8.70" height="8.70"/>
<rect x="352.00" y="561.15" width="8.70" height="8.70"/>
<rect x="366.05" y="571.55" width="8.70" height="8.70"/>
<rect x="380.10" y="579.75" width="8.70" height="8.70"/>
<rect x="394.15" y="587.15" width="8.70" height="8.70"/>
</g>
<clipPath id="c4"><rect x="567.10" y="343.20" width="337.20" height="294.80"/></clipPath>
<g stroke="#bfbfbf" stroke-width="0.9" stroke-dasharray="8.875 8.875" fill="none">
<path d="M651.40 638.00V343.20"/>
<path d="M735.70 638.00V343.20"/>
<path d="M820.00 638.00V343.20"/>
<path d="M567.10 402.16H904.30"/>
<path d="M567.10 461.12H904.30"/>
<path d="M567.10 520.08H904.30"/>
<path d="M567.10 579.04H904.30"/>
</g>
<g stroke="#808080" stroke-width="0.6" fill="none">
<path d="M581.15 638.00v-8.7M581.15 343.20v8.7M595.20 638.00v-8.7M595.20 343.20v8.7M609.25 638.00v-8.7M609.25 343.20v8.7M623.30 638.00v-8.7M623.30 343.20v8.7M637.35 638.00v-8.7M637.35 343.20v8.7M651.40 638.00v-8.7M651.40 343.20v8.7M651.40 638.00v-12.8M651.40 343.20v12.8M665.45 638.00v-8.7M665.45 343.20v8.7M679.50 638.00v-8.7M679.50 343.20v8.7M693.55 638.00v-8.7M693.55 343.20v8.7M707.60 638.00v-8.7M707.60 343.20v8.7M721.65 638.00v-8.7M721.65 343.20v8.7M735.70 638.00v-8.7M735.70 343.20v8.7M735.70 638.00v-12.8M735.70 343.20v12.8M749.75 638.00v-8.7M749.75 343.20v8.7M763.80 638.00v-8.7M763.80 343.20v8.7M777.85 638.00v-8.7M777.85 343.20v8.7M791.90 638.00v-8.7M791.90 343.20v8.7M805.95 638.00v-8.7M805.95 343.20v8.7M820.00 638.00v-8.7M820.00 343.20v8.7M820.00 638.00v-12.8M820.00 343.20v12.8M834.05 638.00v-8.7M834.05 343.20v8.7M848.10 638.00v-8.7M848.10 343.20v8.7M862.15 638.00v-8.7M862.15 343.20v8.7M876.20 638.00v-8.7M876.20 343.20v8.7M890.25 638.00v-8.7M890.25 343.20v8.7M567.10 354.99h8.7M904.30 354.99h-8.7M567.10 366.78h8.7M904.30 366.78h-8.7M567.10 378.58h8.7M904.30 378.58h-8.7M567.10 390.37h8.7M904.30 390.37h-8.7M567.10 402.16h8.7M904.30 402.16h-8.7M567.10 402.16h12.8M904.30 402.16h-12.8M567.10 413.95h8.7M904.30 413.95h-8.7M567.10 425.74h8.7M904.30 425.74h-8.7M567.10 437.54h8.7M904.30 437.54h-8.7M567.10 449.33h8.7M904.30 449.33h-8.7M567.10 461.12h8.7M904.30 461.12h-8.7M567.10 461.12h12.8M904.30 461.12h-12.8M567.10 472.91h8.7M904.30 472.91h-8.7M567.10 484.70h8.7M904.30 484.70h-8.7M567.10 496.50h8.7M904.30 496.50h-8.7M567.10 508.29h8.7M904.30 508.29h-8.7M567.10 520.08h8.7M904.30 520.08h-8.7M567.10 520.08h12.8M904.30 520.08h-12.8M567.10 531.87h8.7M904.30 531.87h-8.7M567.10 543.66h8.7M904.30 543.66h-8.7M567.10 555.46h8.7M904.30 555.46h-8.7M567.10 567.25h8.7M904.30 567.25h-8.7M567.10 579.04h8.7M904.30 579.04h-8.7M567.10 579.04h12.8M904.30 579.04h-12.8M567.10 590.83h8.7M904.30 590.83h-8.7M567.10 602.62h8.7M904.30 602.62h-8.7M567.10 614.42h8.7M904.30 614.42h-8.7M567.10 626.21h8.7M904.30 626.21h-8.7"/></g>
<path d="M566.50 638.00H904.90" stroke="#000" stroke-width="1.5" fill="none"/>
<path d="M566.50 343.20H904.90" stroke="#000" stroke-width="1.5" fill="none"/>
<path d="M567.10 342.60V638.60M904.30 342.60V638.60" stroke="#444" stroke-width="1.9" fill="none"/>
<path d="M567.10 579.20H904.30" stroke="#808080" stroke-width="4.4" fill="none"/>
<g font-family="Liberation Serif, serif" fill="#000">
<text x="561.20" y="661.70" font-size="20.9" textLength="11.80" lengthAdjust="spacingAndGlyphs">0</text>
<text x="633.70" y="661.70" font-size="20.9" textLength="35.40" lengthAdjust="spacingAndGlyphs">300</text>
<text x="718.00" y="661.70" font-size="20.9" textLength="35.40" lengthAdjust="spacingAndGlyphs">600</text>
<text x="802.30" y="661.70" font-size="20.9" textLength="35.40" lengthAdjust="spacingAndGlyphs">900</text>
<text x="880.70" y="661.70" font-size="20.9" textLength="47.20" lengthAdjust="spacingAndGlyphs">1200</text>
<text x="544.50" y="349.40" font-size="20.9" textLength="11.80" lengthAdjust="spacingAndGlyphs">2</text>
<text x="526.10" y="408.36" font-size="20.9" textLength="30.20" lengthAdjust="spacingAndGlyphs">1.5</text>
<text x="544.50" y="467.32" font-size="20.9" textLength="11.80" lengthAdjust="spacingAndGlyphs">1</text>
<text x="526.10" y="526.28" font-size="20.9" textLength="30.20" lengthAdjust="spacingAndGlyphs">0.5</text>
<text x="544.50" y="585.24" font-size="20.9" textLength="11.80" lengthAdjust="spacingAndGlyphs">0</text>
<text x="509.10" y="645.10" font-size="20.9" textLength="15.6" lengthAdjust="spacingAndGlyphs">−</text><text x="526.10" y="644.20" font-size="20.9" textLength="30.20" lengthAdjust="spacingAndGlyphs">0.5</text>
</g>
<path d="M568.50 578.40L581.15 572.00L595.20 566.30L609.25 559.40L623.30 553.30L637.35 547.00L651.40 541.10L665.45 535.40L679.50 529.90L693.55 525.00L707.60 520.70L721.65 516.20L735.70 512.60L749.75 509.20L763.80 505.70L777.85 502.60L791.90 499.50L805.95 496.70L820.00 494.10L834.05 491.80L848.10 489.50L862.15 487.40L876.20 485.60L890.25 484.10L904.30 482.50" fill="none" stroke="#0082c8" stroke-width="1.5" stroke-linejoin="round" clip-path="url(#c4)"/>
<g fill="#80c0e3" stroke="#0082c8" stroke-width="1.5" stroke-linejoin="miter">
<circle cx="568.50" cy="578.40" r="5.2"/>
<circle cx="581.15" cy="572.00" r="5.2"/>
<circle cx="595.20" cy="566.30" r="5.2"/>
<circle cx="609.25" cy="559.40" r="5.2"/>
<circle cx="623.30" cy="553.30" r="5.2"/>
<circle cx="637.35" cy="547.00" r="5.2"/>
<circle cx="651.40" cy="541.10" r="5.2"/>
<circle cx="665.45" cy="535.40" r="5.2"/>
<circle cx="679.50" cy="529.90" r="5.2"/>
<circle cx="693.55" cy="525.00" r="5.2"/>
<circle cx="707.60" cy="520.70" r="5.2"/>
<circle cx="721.65" cy="516.20" r="5.2"/>
<circle cx="735.70" cy="512.60" r="5.2"/>
<circle cx="749.75" cy="509.20" r="5.2"/>
<circle cx="763.80" cy="505.70" r="5.2"/>
<circle cx="777.85" cy="502.60" r="5.2"/>
<circle cx="791.90" cy="499.50" r="5.2"/>
<circle cx="805.95" cy="496.70" r="5.2"/>
<circle cx="820.00" cy="494.10" r="5.2"/>
<circle cx="834.05" cy="491.80" r="5.2"/>
<circle cx="848.10" cy="489.50" r="5.2"/>
<circle cx="862.15" cy="487.40" r="5.2"/>
<circle cx="876.20" cy="485.60" r="5.2"/>
<circle cx="890.25" cy="484.10" r="5.2"/>
<circle cx="904.30" cy="482.50" r="5.2"/>
</g>
<path d="M595.20 563.50L609.25 554.00L623.30 544.00L637.35 534.20L651.40 525.40L665.45 518.80L679.50 513.90L693.55 510.30L707.60 508.00L721.65 506.10L735.70 505.50L749.75 504.20L763.80 503.10L777.85 501.10L791.90 499.10L805.95 496.10L820.00 492.60L834.05 489.20L848.10 485.30L862.15 481.80L876.20 479.10L890.25 476.40L904.30 474.00" fill="none" stroke="#ff0000" stroke-width="1.5" stroke-linejoin="round" clip-path="url(#c4)"/>
<g fill="#ff8f8f" stroke="#ff0000" stroke-width="1.5" stroke-linejoin="miter">
<path d="M595.20 556.20L600.70 563.50L595.20 570.80L589.70 563.50Z"/>
<path d="M609.25 546.70L614.75 554.00L609.25 561.30L603.75 554.00Z"/>
<path d="M623.30 536.70L628.80 544.00L623.30 551.30L617.80 544.00Z"/>
<path d="M637.35 526.90L642.85 534.20L637.35 541.50L631.85 534.20Z"/>
<path d="M651.40 518.10L656.90 525.40L651.40 532.70L645.90 525.40Z"/>
<path d="M665.45 511.50L670.95 518.80L665.45 526.10L659.95 518.80Z"/>
<path d="M679.50 506.60L685.00 513.90L679.50 521.20L674.00 513.90Z"/>
<path d="M693.55 503.00L699.05 510.30L693.55 517.60L688.05 510.30Z"/>
<path d="M707.60 500.70L713.10 508.00L707.60 515.30L702.10 508.00Z"/>
<path d="M721.65 498.80L727.15 506.10L721.65 513.40L716.15 506.10Z"/>
<path d="M735.70 498.20L741.20 505.50L735.70 512.80L730.20 505.50Z"/>
<path d="M749.75 496.90L755.25 504.20L749.75 511.50L744.25 504.20Z"/>
<path d="M763.80 495.80L769.30 503.10L763.80 510.40L758.30 503.10Z"/>
<path d="M777.85 493.80L783.35 501.10L777.85 508.40L772.35 501.10Z"/>
<path d="M791.90 491.80L797.40 499.10L791.90 506.40L786.40 499.10Z"/>
<path d="M805.95 488.80L811.45 496.10L805.95 503.40L800.45 496.10Z"/>
<path d="M820.00 485.30L825.50 492.60L820.00 499.90L814.50 492.60Z"/>
<path d="M834.05 481.90L839.55 489.20L834.05 496.50L828.55 489.20Z"/>
<path d="M848.10 478.00L853.60 485.30L848.10 492.60L842.60 485.30Z"/>
<path d="M862.15 474.50L867.65 481.80L862.15 489.10L856.65 481.80Z"/>
<path d="M876.20 471.80L881.70 479.10L876.20 486.40L870.70 479.10Z"/>
<path d="M890.25 469.10L895.75 476.40L890.25 483.70L884.75 476.40Z"/>
<path d="M904.30 466.70L909.80 474.00L904.30 481.30L898.80 474.00Z"/>
</g>
<path d="M595.20 599.50L609.25 627.80L623.30 619.20L637.35 601.50L651.40 557.50L665.45 510.80L679.50 489.40L693.55 465.00L707.60 484.00L721.65 521.90L735.70 528.40L749.75 511.40L763.80 457.90L777.85 433.00L791.90 420.80L805.95 419.10L820.00 431.50L834.05 471.70L848.10 514.20L862.15 490.70L876.20 440.60L890.25 397.90L904.30 377.90" fill="none" stroke="#3cb44b" stroke-width="1.5" stroke-linejoin="round" clip-path="url(#c4)"/>
<g fill="#9dd9a5" stroke="#3cb44b" stroke-width="1.5" stroke-linejoin="miter">
<rect x="590.85" y="595.15" width="8.70" height="8.70"/>
<rect x="604.90" y="623.45" width="8.70" height="8.70"/>
<rect x="618.95" y="614.85" width="8.70" height="8.70"/>
<rect x="633.00" y="597.15" width="8.70" height="8.70"/>
<rect x="647.05" y="553.15" width="8.70" height="8.70"/>
<rect x="661.10" y="506.45" width="8.70" height="8.70"/>
<rect x="675.15" y="485.05" width="8.70" height="8.70"/>
<rect x="689.20" y="460.65" width="8.70" height="8.70"/>
<rect x="703.25" y="479.65" width="8.70" height="8.70"/>
<rect x="717.30" y="517.55" width="8.70" height="8.70"/>
<rect x="731.35" y="524.05" width="8.70" height="8.70"/>
<rect x="745.40" y="507.05" width="8.70" height="8.70"/>
<rect x="759.45" y="453.55" width="8.70" height="8.70"/>
<rect x="773.50" y="428.65" width="8.70" height="8.70"/>
<rect x="787.55" y="416.45" width="8.70" height="8.70"/>
<rect x="801.60" y="414.75" width="8.70" height="8.70"/>
<rect x="815.65" y="427.15" width="8.70" height="8.70"/>
<rect x="829.70" y="467.35" width="8.70" height="8.70"/>
<rect x="843.75" y="509.85" width="8.70" height="8.70"/>
<rect x="857.80" y="486.35" width="8.70" height="8.70"/>
<rect x="871.85" y="436.25" width="8.70" height="8.70"/>
<rect x="885.90" y="393.55" width="8.70" height="8.70"/>
<rect x="899.95" y="373.55" width="8.70" height="8.70"/>
</g>
<g font-family="Liberation Serif, serif" fill="#000" font-size="24.4">
<text x="126.70" y="700.2" font-size="22.7" textLength="110.7" lengthAdjust="spacingAndGlyphs">Frequency</text>
<text x="248.40" y="700.6" font-size="25.9">(</text>
<text x="257.90" y="700.2" font-style="italic" textLength="8.9" lengthAdjust="spacingAndGlyphs">f</text>
<text x="271.60" y="700.6" font-size="25.9">)</text>
<text x="290.50" y="701.4000000000001" font-size="27.8" textLength="7.4" lengthAdjust="spacingAndGlyphs">[</text>
<text x="297.10" y="700.2" font-size="22.7" textLength="29.6" lengthAdjust="spacingAndGlyphs">Hz</text>
<text x="325.30" y="701.4000000000001" font-size="27.8" textLength="7.4" lengthAdjust="spacingAndGlyphs">]</text>
</g>
<g font-family="Liberation Serif, serif" fill="#000" font-size="24.4">
<text x="632.60" y="700.2" font-size="22.7" textLength="110.7" lengthAdjust="spacingAndGlyphs">Frequency</text>
<text x="754.30" y="700.6" font-size="25.9">(</text>
<text x="763.80" y="700.2" font-style="italic" textLength="8.9" lengthAdjust="spacingAndGlyphs">f</text>
<text x="777.50" y="700.6" font-size="25.9">)</text>
<text x="796.40" y="701.4000000000001" font-size="27.8" textLength="7.4" lengthAdjust="spacingAndGlyphs">[</text>
<text x="803.00" y="700.2" font-size="22.7" textLength="29.6" lengthAdjust="spacingAndGlyphs">Hz</text>
<text x="831.20" y="701.4000000000001" font-size="27.8" textLength="7.4" lengthAdjust="spacingAndGlyphs">]</text>
</g>
<g transform="translate(483.9,125.9) rotate(-90)" fill="#000">
<text transform="scale(0.583,1)" x="0" y="0" font-family="DejaVu Math TeX Gyre, DejaVu Sans, sans-serif" font-size="25.6">∠</text>
<text x="16.4" y="0" font-family="Liberation Serif, serif" font-style="italic" font-size="24" textLength="18.2" lengthAdjust="spacingAndGlyphs">R</text>
<text x="35.7" y="3.0" font-family="Liberation Serif, serif" font-size="16.6" textLength="9.4" lengthAdjust="spacingAndGlyphs">1</text>
</g>
<g transform="translate(483.9,513.9) rotate(-90)" fill="#000">
<text transform="scale(0.583,1)" x="0" y="0" font-family="DejaVu Math TeX Gyre, DejaVu Sans, sans-serif" font-size="25.6">∠</text>
<text x="16.4" y="0" font-family="Liberation Serif, serif" font-style="italic" font-size="24" textLength="18.2" lengthAdjust="spacingAndGlyphs">R</text>
<text x="35.7" y="3.0" font-family="Liberation Serif, serif" font-size="16.6" textLength="9.4" lengthAdjust="spacingAndGlyphs">2</text>
</g>
<rect x="915.05" y="-20" width="300" height="110.4" fill="#fff" stroke="#000" stroke-width="1.4"/>
<path d="M927 10.3H977.5" stroke="#0082c8" stroke-width="1.5" fill="none"/>
<g fill="#80c0e3" stroke="#0082c8" stroke-width="1.5"><circle cx="952.25" cy="10.30" r="5.2"/></g>
<path d="M927 36.5H977.5" stroke="#ff0000" stroke-width="1.5" fill="none"/>
<g fill="#ff8f8f" stroke="#ff0000" stroke-width="1.5"><path d="M952.25 29.20L957.75 36.50L952.25 43.80L946.75 36.50Z"/></g>
<path d="M927 63.0H977.5" stroke="#3cb44b" stroke-width="1.5" fill="none"/>
<g fill="#9dd9a5" stroke="#3cb44b" stroke-width="1.5"><rect x="947.90" y="58.65" width="8.70" height="8.70"/></g>
<g font-family="Liberation Serif, serif" fill="#000" font-size="20.6">
<text x="990.7" y="17.9" textLength="65.7" lengthAdjust="spacingAndGlyphs">K-Adj.</text>
<text x="1071.5" y="17.9" textLength="35.8" lengthAdjust="spacingAndGlyphs">MC</text>
<text x="1118.3" y="17.9" textLength="50.5" lengthAdjust="spacingAndGlyphs">(Slit)</text>
<text x="990.7" y="44.4" textLength="103.6" lengthAdjust="spacingAndGlyphs">Numerical</text>
<text x="1105.1" y="44.4" textLength="57.7" lengthAdjust="spacingAndGlyphs">(Cyl.)</text>
<text x="990.7" y="71.1" textLength="118" lengthAdjust="spacingAndGlyphs">Experiment</text>
<text x="1120.1" y="71.1" textLength="57.7" lengthAdjust="spacingAndGlyphs">(Cyl.)</text>
</g>
</svg></body></html>
